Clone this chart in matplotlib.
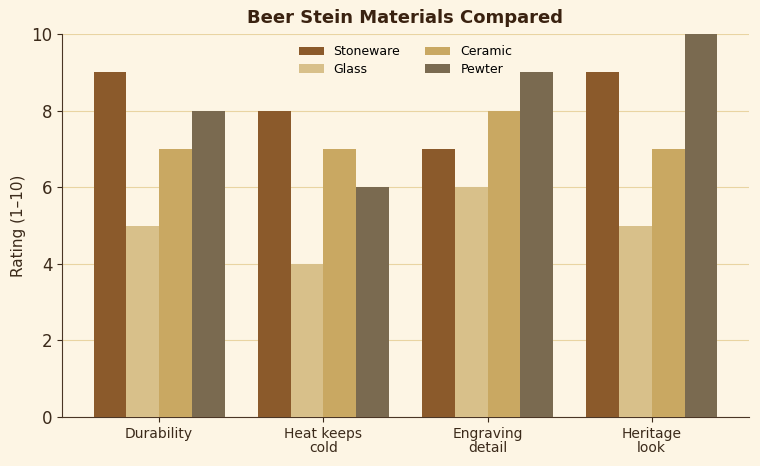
import matplotlib.pyplot as plt
import numpy as np

categories = ['Durability', 'Heat keeps\ncold', 'Engraving\ndetail', 'Heritage\nlook']
materials = ['Stoneware', 'Glass', 'Ceramic', 'Pewter']
stoneware = [9, 8, 7, 9]
glass = [5, 4, 6, 5]
ceramic = [7, 7, 8, 7]
pewter = [8, 6, 9, 10]
colors = ['#8B5A2B', '#D8C08A', '#C9A862', '#7A6A50']

bg = '#FDF5E4'
txt = '#3B2A1A'

fig, ax = plt.subplots(figsize=(7.6, 4.66), dpi=100)
fig.patch.set_facecolor(bg)
ax.set_facecolor(bg)

x = np.arange(len(categories))
w = 0.2
series = [stoneware, glass, ceramic, pewter]
for i, (vals, name) in enumerate(zip(series, materials)):
    ax.bar(x + (i - 1.5) * w, vals, w, color=colors[i], label=name, zorder=3)

ax.set_ylim(0, 10)
ax.set_xticks(x)
ax.set_xticklabels(categories, fontsize=10, color=txt, linespacing=1.0)
ax.tick_params(axis='y', labelsize=12, colors=txt)
ax.tick_params(axis='x', colors=txt)
ax.set_ylabel('Rating (1–10)', fontsize=11, color=txt)
ax.set_title('Beer Stein Materials Compared', fontsize=13, fontweight='bold', color='#3A2210', pad=8)
ax.yaxis.grid(True, color='#E9D4A2', linewidth=0.8, zorder=0)
ax.set_axisbelow(True)
for s in ['top', 'right']:
    ax.spines[s].set_visible(False)
for s in ['left', 'bottom']:
    ax.spines[s].set_color('#4A3525')
ax.legend(loc='upper center', ncol=2, frameon=False, fontsize=9,
          handlelength=2.0, columnspacing=2.0, labelspacing=0.35)

plt.subplots_adjust(left=0.082, right=0.985, top=0.927, bottom=0.105)
plt.savefig('out.png', dpi=100, facecolor=bg)
